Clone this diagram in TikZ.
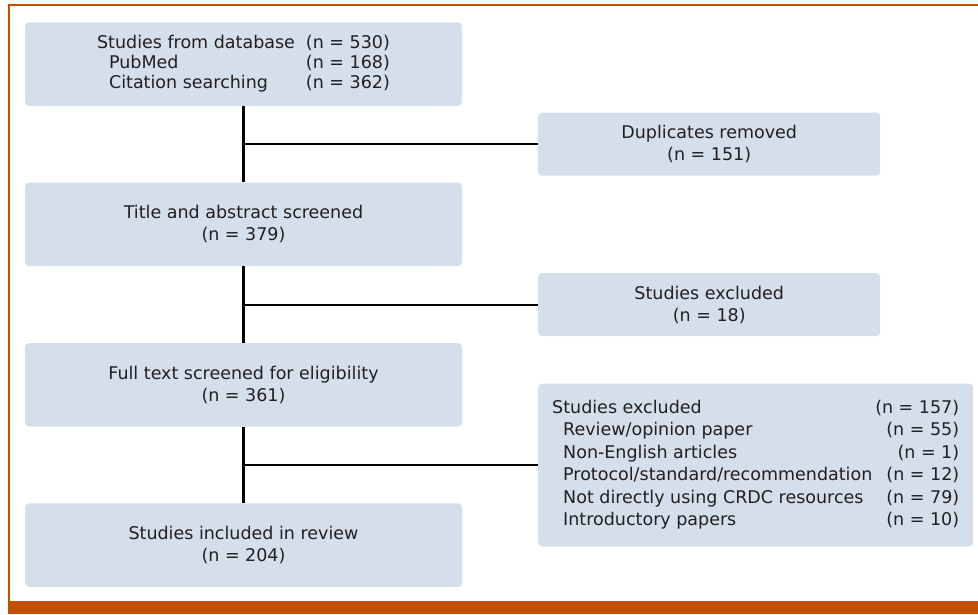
\documentclass[tikz,border=0pt]{standalone}
\usepackage{fontspec}
\setmainfont{DejaVu Sans}
\usetikzlibrary{positioning}
\definecolor{FlowFill}{HTML}{D5DEEB}
\definecolor{FlowOrange}{HTML}{C04F00}
\definecolor{FlowText}{HTML}{231F20}

\begin{document}
\begin{tikzpicture}[x=1pt, y=1pt, node distance=76.5pt and 294.5pt,
        mainbox/.style={rectangle, fill=FlowFill, text=FlowText, rounded corners=4pt, minimum width=437pt, minimum height=83.5pt, inner sep=0pt, align=center, font=\fontsize{17.5}{22}\selectfont},
        sidebox/.style={rectangle, fill=FlowFill, text=FlowText, rounded corners=4pt, minimum width=342pt, minimum height=63pt, inner sep=0pt, align=center, font=\fontsize{17.5}{22}\selectfont},
        trunk/.style={line width=2.4pt, black},
        branch/.style={line width=2pt, black}]

        % page frame
        \useasboundingbox (0,0) rectangle (978,-614);
        \fill[FlowOrange] (7.5,-601) rectangle (978,-614);
        \draw[FlowOrange, line width=1.5pt] (9,-601) -- (9,-5) -- (978,-5);

        \node[mainbox, font=\fontsize{17.5}{20}\selectfont] (b1) at (243.5,-64) {\begin{tabular}{@{}l@{\hspace{11pt}}l@{}}
            Studies from database & (n = 530)\\
            \hspace{12pt}PubMed & (n = 168)\\
            \hspace{12pt}Citation searching & (n = 362)
        \end{tabular}};
        \node[mainbox, below=of b1] (b2) {Title and abstract screened\\(n = 379)};
        \node[mainbox, below=of b2] (b3) {Full text screened for eligibility\\(n = 361)};
        \node[mainbox, below=of b3] (b4) {Studies included in review\\(n = 204)};

        % junctions on the trunk
        \path (b1.south) -- (b2.north) coordinate[midway] (j1);
        \path (b2.south) -- (b3.north) coordinate[midway] (j2);
        \path (b3.south) -- (b4.north) coordinate[midway] (j3);

        \node[sidebox, right=of j1] (dup) {Duplicates removed\\(n = 151)};
        \node[sidebox, right=of j2] (ex1) {Studies excluded\\(n = 18)};
        \node[sidebox, right=of j3, minimum width=435pt, minimum height=163pt, font=\fontsize{17.5}{22.5}\selectfont] (ex2) {\begin{tabular*}{407pt}{@{}l@{\extracolsep{\fill}}r@{}}
            Studies excluded & (n = 157)\\
            \hspace{11pt}Review/opinion paper & (n = 55)\\
            \hspace{11pt}Non-English articles & (n = 1)\\
            \hspace{11pt}Protocol/standard/recommendation & (n = 12)\\
            \hspace{11pt}Not directly using CRDC resources & (n = 79)\\
            \hspace{11pt}Introductory papers & (n = 10)
        \end{tabular*}};

        \draw[trunk] (b1) -- (b2);
        \draw[trunk] (b2) -- (b3);
        \draw[trunk] (b3) -- (b4);
        \draw[branch] (j1) -- (dup);
        \draw[branch] (j2) -- (ex1);
        \draw[branch] (j3) -- (ex2);
    \end{tikzpicture}
\end{document}
